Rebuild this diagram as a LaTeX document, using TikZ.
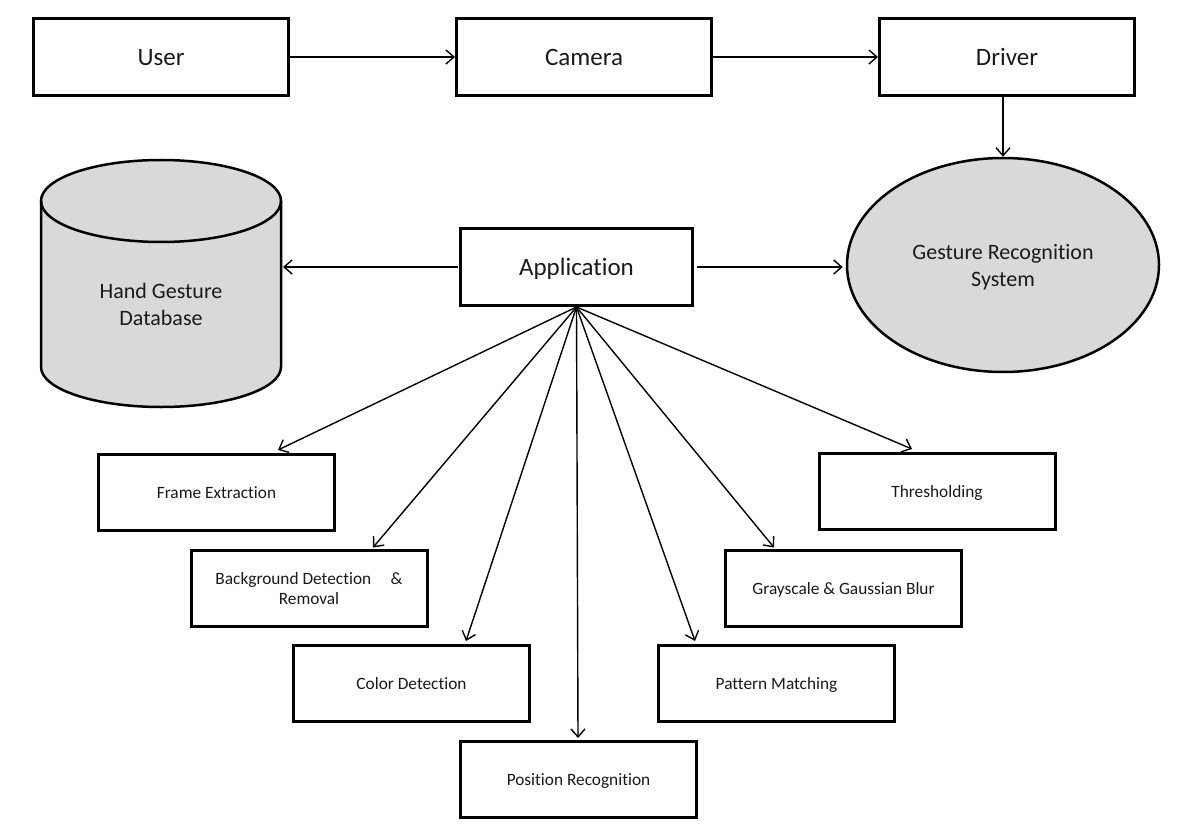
\documentclass[tikz,border=0pt]{standalone}
\usepackage{fontspec}
\setmainfont{Carlito}[Ligatures=NoCommon]
\usetikzlibrary{arrows.meta,shapes.geometric}
\definecolor{inkgray}{HTML}{1A1A1A}
\definecolor{shade}{HTML}{D9D9D9}
\begin{document}
\begin{tikzpicture}[x=1pt,y=-1pt,
  bigbox/.style={draw=black,line width=3pt,fill=white,inner sep=0pt,
    minimum width=255pt,minimum height=77pt,text=inkgray,text depth=0pt,
    font=\fontsize{25}{29}\selectfont},
  appbox/.style={bigbox,minimum width=232pt,font=\fontsize{25}{29}\selectfont},
  smallbox/.style={draw=black,line width=3pt,fill=white,inner sep=0pt,
    minimum width=236pt,minimum height=76pt,text=inkgray,text depth=0pt,
    align=center,font=\fontsize{17.3}{20}\selectfont},
  flow/.style={draw=black,line width=1.4pt,-{Straight Barb[length=8pt,width=14pt,line width=1.4pt]}},
  solid shape/.style={draw=black,line width=2.5pt,fill=shade}]
\useasboundingbox (0,0) rectangle (1185,834);

% top row
\node[bigbox] (user) at (161,57) {User};
\node[bigbox] (camera) at (584,57) {Camera};
\node[bigbox] (driver) at (1007,57) {Driver};

% database cylinder
\path[solid shape] (41,201) arc[start angle=180,end angle=360,x radius=120,y radius=41]
  -- (281,367) arc[start angle=0,end angle=180,x radius=120,y radius=40] -- cycle;
\draw[line width=2.5pt] (41,201) arc[start angle=180,end angle=0,x radius=120,y radius=41];
\node[text=inkgray,align=center,text depth=0pt,font=\fontsize{22}{27}\selectfont] (db) at (161,304)
  {Hand Gesture\\Database};
\coordinate (dbside) at (283,267);

% recognition system
\node[ellipse,solid shape,minimum width=312pt,minimum height=214pt,inner sep=0pt,
  text=inkgray,align=center,text depth=0pt,font=\fontsize{22}{27}\selectfont] (grs) at (1003,265)
  {Gesture Recognition\\System};

% application
\node[appbox] (app) at (576.5,267) {Application};

% processing steps
\node[smallbox] (fe) at (216.5,492.5) {Frame Extraction};
\node[smallbox] (bg) at (309,588) {Background Detection\hspace{0.9em} \&\\Removal};
\node[smallbox] (cd) at (411.5,683.5) {Color Detection};
\node[smallbox] (pr) at (578.5,779.5) {Position Recognition};
\node[smallbox] (pm) at (776.5,683.5) {Pattern Matching};
\node[smallbox] (gs) at (843.5,588) {Grayscale \& Gaussian Blur};
\node[smallbox] (th) at (937,491.5) {Thresholding};

% connectors
\draw[flow] (user.east) -- (camera.west);
\draw[flow] (camera.east) -- (driver.west);
\draw[flow] (grs.north |- driver.south) -- (grs.north);
\draw[flow] ([xshift=-1pt]app.west) -- (dbside);
\draw[flow] ([xshift=3pt]app.east) -- ([xshift=-3pt]app.east -| grs.west);

\draw[flow] (app.south) -- ([xshift=61.5pt,yshift=3pt]fe.north);
\draw[flow] (app.south) -- ([xshift=64pt,yshift=1pt]bg.north);
\draw[flow] (app.south) -- ([xshift=54.5pt,yshift=3pt]cd.north);
\draw[flow] (app.south) -- ([xshift=-0.5pt,yshift=2pt]pr.north);
\draw[flow] (app.south) -- ([xshift=-81.5pt,yshift=3pt]pm.north);
\draw[flow] (app.south) -- ([xshift=-69.5pt,yshift=1pt]gs.north);
\draw[flow] (app.south) -- ([xshift=-25pt,yshift=3pt]th.north);
\end{tikzpicture}
\end{document}
